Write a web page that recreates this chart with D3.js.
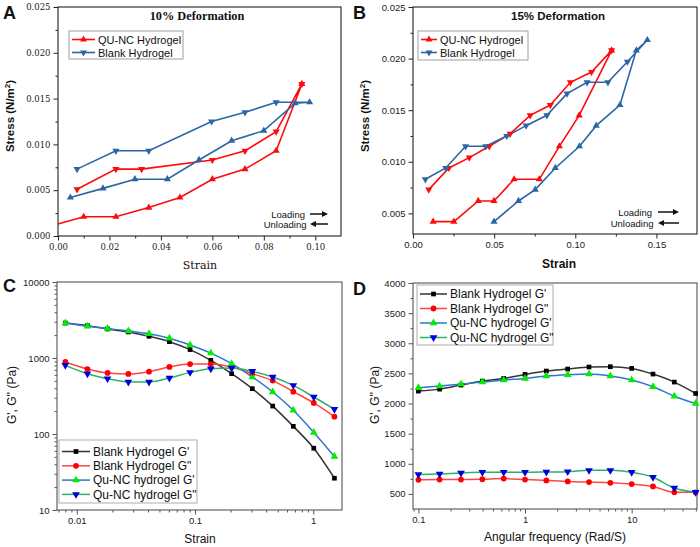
<!DOCTYPE html>
<html><head><meta charset="utf-8">
<script src="https://cdn.jsdelivr.net/npm/d3@7"></script>
<style>body{margin:0;background:#fff}svg{display:block}</style>
</head><body>
<svg id="c" width="700" height="547"></svg>
<script>
// ---------- DATA ----------
// Panel A : 10% deformation, [strain, stress]
const aQuLoading = [[0.0,0.0013],[0.0100,0.0021],[0.0225,0.0021],[0.0353,0.0031],[0.0474,0.0042],[0.0600,0.0062],[0.0727,0.0073],[0.0848,0.0093],[0.0948,0.0166]];
const aQuUnloading = [[0.0948,0.0166],[0.0848,0.0114],[0.0727,0.0093],[0.0600,0.0083],[0.0325,0.0073],[0.0225,0.0073],[0.0074,0.0051]];
const aBlankLoading = [[0.0048,0.0042],[0.0175,0.0052],[0.0299,0.0062],[0.0425,0.0062],[0.0548,0.0083],[0.0675,0.0104],[0.0800,0.0115],[0.0922,0.0145],[0.0978,0.0146]];
const aBlankUnloading = [[0.0978,0.0146],[0.0848,0.0146],[0.0727,0.0135],[0.0597,0.0125],[0.0353,0.0093],[0.0225,0.0093],[0.0074,0.0073]];
// Panel B : 15% deformation
const bQuLoading = [[0.0124,0.0042],[0.0252,0.0042],[0.0402,0.0062],[0.0499,0.0062],[0.0623,0.0083],[0.0778,0.0083],[0.0902,0.0115],[0.1024,0.0145],[0.1224,0.0208]];
const bQuUnloading = [[0.1224,0.0208],[0.1100,0.0187],[0.0970,0.0177],[0.0846,0.0155],[0.0722,0.0145],[0.0598,0.0127],[0.0470,0.0115],[0.0347,0.0104],[0.0221,0.0094],[0.0097,0.0073]];
const bBlankLoading = [[0.0499,0.0042],[0.0650,0.0062],[0.0753,0.0073],[0.0877,0.0094],[0.1026,0.0115],[0.1129,0.0135],[0.1275,0.0155],[0.1376,0.0208],[0.1444,0.0218]];
const bBlankUnloading = [[0.1444,0.0218],[0.1321,0.0197],[0.1201,0.0177],[0.1073,0.0177],[0.0949,0.0166],[0.0825,0.0145],[0.0697,0.0135],[0.0578,0.0125],[0.0448,0.0115],[0.0324,0.0115],[0.0202,0.0094],[0.0076,0.0083]];
// Panel C : strain sweep
const cStrain = [0.0080,0.0123,0.0182,0.0273,0.0408,0.0607,0.0908,0.136,0.204,0.305,0.454,0.678,1.01,1.51];
const cBlankG1 = [2880,2660,2410,2200,1930,1640,1290,931,622,395,233,126,65,26.2];
const cBlankG2 = [886,716,635,616,661,762,833,833,762,622,504,361,256,169];
const cQuG1 = [2880,2610,2450,2260,2090,1820,1480,1160,842,562,357,205,105,50.5];
const cQuG2 = [801,622,535,483,483,545,647,724,738,668,562,436,307,212];
// Panel D : frequency sweep
const dFreq = [0.1,0.158,0.251,0.398,0.631,1,1.585,2.512,3.981,6.31,10,15.85,25.12,39.81];
const dBlankG1 = [2206,2239,2306,2372,2417,2483,2539,2572,2606,2611,2583,2489,2356,2167];
const dBlankG2 = [734,739,739,745,755,739,723,707,696,685,663,625,527,527];
const dQuG1 = [2261,2289,2322,2356,2389,2417,2456,2478,2489,2456,2389,2278,2122,2000];
const dQuG2 = [821,832,848,859,859,859,864,870,891,891,859,777,598,527];
// Tick labels
const aXTicks = [0,0.02,0.04,0.06,0.08,0.10];
const aYTicks = [0,0.005,0.010,0.015,0.020,0.025];
const bXTicks = [0,0.05,0.10,0.15];
const bYTicks = [0.005,0.010,0.015,0.020,0.025];
const cXTicks = [0.01,0.1,1];
const cYTicks = [10,100,1000,10000];
const dXTicks = [0.1,1,10];
const dYTicks = [500,1000,1500,2000,2500,3000,3500,4000];
const abNames = ["QU-NC Hydrogel","Blank Hydrogel"];
const cdNames = ["Blank Hydrogel G'","Blank Hydrogel G\"","Qu-NC hydrogel G'","Qu-NC hydrogel G\""];

// ---------- DRAW ----------
const svg = d3.select("#c");
const SANS = "'Liberation Sans', Arial, sans-serif";
const SERIF = "'DejaVu Serif', serif";
const RED = "#ff0a0a", BLUE = "#2c64a6";

function sym(type, size){
  const t = {up:d3.symbolTriangle, down:d3.symbolTriangle, sq:d3.symbolSquare, circ:d3.symbolCircle}[type];
  return d3.symbol().type(t).size(size)();
}
function marker(g, x, y, type, size, fill){
  g.append("path").attr("d", sym(type,size))
   .attr("transform", `translate(${x},${y})` + (type==="down" ? " rotate(180)" : ""))
   .attr("fill", fill);
}

function axes(p){
  const g = svg.append("g");
  const [x0,x1] = p.x.range(), [y0,y1] = p.y.range();
  g.append("g").attr("transform",`translate(0,${y0})`)
   .call(d3.axisBottom(p.x).tickValues(p.xMinor).tickSize(2.5).tickFormat("").tickSizeOuter(0))
   .call(s=>s.select(".domain").remove()).selectAll("line").attr("stroke",p.frame);
  g.append("g").attr("transform",`translate(${x0},0)`)
   .call(d3.axisLeft(p.y).tickValues(p.yMinor).tickSize(2.5).tickFormat("").tickSizeOuter(0))
   .call(s=>s.select(".domain").remove()).selectAll("line").attr("stroke",p.frame);
  const xa = g.append("g").attr("transform",`translate(0,${y0})`)
   .call(d3.axisBottom(p.x).tickValues(p.xTicks).tickSize(4.5).tickPadding(3).tickFormat(p.xFmt).tickSizeOuter(0));
  xa.select(".domain").remove();
  xa.selectAll("line").attr("stroke",p.frame);
  xa.selectAll("text").attr("font-family",p.font).attr("font-size",p.tickSize).attr("fill","#222");
  const ya = g.append("g").attr("transform",`translate(${x0},0)`)
   .call(d3.axisLeft(p.y).tickValues(p.yTicks).tickSize(4.5).tickPadding(3).tickFormat(p.yFmt).tickSizeOuter(0));
  ya.select(".domain").remove();
  ya.selectAll("line").attr("stroke",p.frame);
  ya.selectAll("text").attr("font-family",p.font).attr("font-size",p.tickSize).attr("fill","#222");
  g.append("rect").attr("x",x0).attr("y",y1).attr("width",x1-x0).attr("height",y0-y1)
   .attr("fill","none").attr("stroke",p.frame).attr("stroke-width",1.1);
}

function panelLabel(t,x,y){
  svg.append("text").attr("x",x).attr("y",y).text(t)
   .attr("font-family",SANS).attr("font-weight","bold").attr("font-size",18).attr("fill","#111");
}
function yLabel(t,x,y,size,weight){
  return svg.append("text").attr("transform",`translate(${x},${y}) rotate(-90)`)
   .attr("text-anchor","middle").attr("font-family",SANS).attr("font-size",size)
   .attr("font-weight",weight).attr("fill","#111");
}

// --- Panel A & B (hysteresis) ---
function hyst(p){
  axes(p);
  const line = d3.line().x(d=>p.x(d[0])).y(d=>p.y(d[1]));
  const g = svg.append("g");
  p.series.forEach(s=>{
    g.append("path").attr("d",line(s.load.concat(s.unload.slice(1))))
     .attr("fill","none").attr("stroke",s.color).attr("stroke-width",1.6);
  });
  p.series.forEach(s=>{
    s.load.filter(d=>d[0]>0).forEach(d=>marker(g,p.x(d[0]),p.y(d[1]),"up",22,s.color));
    s.unload.slice(1).forEach(d=>marker(g,p.x(d[0]),p.y(d[1]),"down",22,s.color));
  });
  const top = p.series[0].load[p.series[0].load.length-1];
  marker(g,p.x(top[0]),p.y(top[1]),"down",22,p.series[0].color);
  const L = p.legend;
  svg.append("rect").attr("x",L.x).attr("y",L.y).attr("width",L.w).attr("height",L.h)
   .attr("fill","#fff").attr("stroke","#888").attr("stroke-width",0.8);
  p.series.forEach((s,i)=>{
    const yy = L.y + 8.5 + i*13;
    svg.append("line").attr("x1",L.x+3).attr("x2",L.x+L.lw).attr("y1",yy).attr("y2",yy)
      .attr("stroke",s.color).attr("stroke-width",1.6);
    marker(svg,L.x+3+(L.lw-3)/2,yy,i===0?"up":"down",20,s.color);
    svg.append("text").attr("x",L.x+L.lw+3).attr("y",yy+4).text(abNames[i])
      .attr("font-family",SANS).attr("font-size",11).attr("fill","#111");
  });
  const A = p.arrows;
  const tt = (t,x,y)=>svg.append("text").attr("x",x).attr("y",y).attr("text-anchor","end").text(t)
    .attr("font-family",SANS).attr("font-size",9.5).attr("fill","#111");
  tt("Loading",A.tx,A.y1+3.5); tt("Unloading",A.tx+1.5,A.y2+3.5);
  svg.append("line").attr("x1",A.ax).attr("x2",A.ax+A.len-4).attr("y1",A.y1).attr("y2",A.y1).attr("stroke","#111").attr("stroke-width",1.5);
  svg.append("path").attr("d",`M${A.ax+A.len},${A.y1} l-6,-3 l0,6 z`).attr("fill","#111");
  svg.append("line").attr("x1",A.ax+4).attr("x2",A.ax+A.len).attr("y1",A.y2).attr("y2",A.y2).attr("stroke","#111").attr("stroke-width",1.5);
  svg.append("path").attr("d",`M${A.ax},${A.y2} l6,-3 l0,6 z`).attr("fill","#111");
}

const aX = d3.scaleLinear().domain([0,0.11]).range([58,341]);
const aY = d3.scaleLinear().domain([0,0.025]).range([236,7]);
hyst({x:aX,y:aY,frame:"#222",font:SERIF,tickSize:8.5,
  xTicks:aXTicks,xMinor:d3.range(0.01,0.11,0.02),xFmt:d3.format(".2f"),
  yTicks:aYTicks,yMinor:d3.range(0.0025,0.025,0.005),yFmt:d3.format(".3f"),
  series:[{load:aQuLoading,unload:aQuUnloading,color:RED},{load:aBlankLoading,unload:aBlankUnloading,color:BLUE}],
  legend:{x:69,y:31,w:114,h:28,lw:26},
  arrows:{tx:305,ax:310,len:18,y1:214,y2:224}});
svg.append("text").attr("x",197).attr("y",20).attr("text-anchor","middle").text("10% Deformation")
  .attr("font-family","'Liberation Serif', serif").attr("font-weight","bold").attr("font-size",12.3).attr("fill","#111");
svg.append("text").attr("x",200).attr("y",269).attr("text-anchor","middle").text("Strain")
  .attr("font-family",SERIF).attr("font-size",11).attr("fill","#111");
{ const t = yLabel("",14,116,11.5,"bold");
  t.append("tspan").text("Stress (N/m");
  t.append("tspan").text("2").attr("dy",-4).attr("font-size",8);
  t.append("tspan").text(")").attr("dy",4); }
panelLabel("A",3,19);

const bX = d3.scaleLinear().domain([0,0.175]).range([413,697]);
const bY = d3.scaleLinear().domain([0.003,0.025]).range([234,7]);
hyst({x:bX,y:bY,frame:"#222",font:SANS,tickSize:9.5,
  xTicks:bXTicks,xMinor:[0.025,0.075,0.125],xFmt:d3.format(".2f"),
  yTicks:bYTicks,yMinor:[0.0075,0.0125,0.0175,0.0225],yFmt:d3.format(".3f"),
  series:[{load:bQuLoading,unload:bQuUnloading,color:RED},{load:bBlankLoading,unload:bBlankUnloading,color:BLUE}],
  legend:{x:418,y:31,w:110,h:29,lw:19},
  arrows:{tx:652,ax:658,len:21,y1:212,y2:223}});
svg.append("text").attr("x",558).attr("y",20).attr("text-anchor","middle").text("15% Deformation")
  .attr("font-family",SANS).attr("font-weight","bold").attr("font-size",11.5).attr("fill","#111");
svg.append("text").attr("x",559).attr("y",268).attr("text-anchor","middle").text("Strain")
  .attr("font-family",SANS).attr("font-weight","bold").attr("font-size",12).attr("fill","#111");
{ const t = yLabel("",369,116,11.5,"bold");
  t.append("tspan").text("Stress (N/m");
  t.append("tspan").text("2").attr("dy",-4).attr("font-size",8);
  t.append("tspan").text(")").attr("dy",4); }
panelLabel("B",353,19);

// --- Panel C & D (rheology) ---
const cdStyle = [
  {line:"#333333", fill:"#000000", type:"sq", size:22},
  {line:"#ff4545", fill:"#ff0000", type:"circ", size:26},
  {line:"#2a78d0", fill:"#00ee00", type:"up", size:26},
  {line:"#2fae6c", fill:"#0000dd", type:"down", size:26}
];
function rheo(p){
  axes(p);
  const g = svg.append("g");
  const line = d3.line().curve(d3.curveMonotoneX);
  p.series.forEach((vals,i)=>{
    const pts = p.xs.map((x,j)=>[p.x(x),p.y(vals[j])]);
    g.append("path").attr("d",line(pts)).attr("fill","none").attr("stroke",cdStyle[i].line).attr("stroke-width",1.5);
  });
  p.series.forEach((vals,i)=>{
    p.xs.forEach((x,j)=>marker(g,p.x(x),p.y(vals[j]),cdStyle[i].type,cdStyle[i].size,cdStyle[i].fill));
  });
  const L = p.legend;
  svg.append("rect").attr("x",L.x).attr("y",L.y).attr("width",L.w).attr("height",L.h)
   .attr("fill","#fff").attr("stroke","#999").attr("stroke-width",0.8);
  cdNames.forEach((n,i)=>{
    const yy = L.y + L.r0 + i*L.dy;
    svg.append("line").attr("x1",L.x+3).attr("x2",L.x+L.lw).attr("y1",yy).attr("y2",yy)
      .attr("stroke",cdStyle[i].line).attr("stroke-width",1.5);
    marker(svg,L.x+3+(L.lw-3)/2,yy,cdStyle[i].type,cdStyle[i].size,cdStyle[i].fill);
    svg.append("text").attr("x",L.x+L.lw+3).attr("y",yy+4.3).text(n)
      .attr("font-family",SANS).attr("font-size",12).attr("fill","#111");
  });
}
function logMinor(lo,hi){
  const out=[];
  for(let e=Math.floor(Math.log10(lo)); e<=Math.ceil(Math.log10(hi)); e++)
    for(let k=2;k<=9;k++){ const v=k*Math.pow(10,e); if(v>lo&&v<hi) out.push(v); }
  return out;
}
const cX = d3.scaleLog().domain([0.0068,1.75]).range([57,342]);
const cY = d3.scaleLog().domain([10,10000]).range([510,282]);
rheo({x:cX,y:cY,frame:"#555",font:SANS,tickSize:9.5,
  xTicks:cXTicks,xMinor:logMinor(0.0068,1.75),xFmt:d=>String(d),
  yTicks:cYTicks,yMinor:logMinor(10,10000),yFmt:d=>String(d),
  xs:cStrain,series:[cBlankG1,cBlankG2,cQuG1,cQuG2],
  legend:{x:59,y:440,w:138,h:63,lw:31,r0:11.5,dy:14.3}});
svg.append("text").attr("x",200).attr("y",543).attr("text-anchor","middle").text("Strain")
  .attr("font-family",SANS).attr("font-size",12).attr("fill","#111");
yLabel("",16,395,12,"normal").text("G', G'' (Pa)");
panelLabel("C",3,292);

const dX = d3.scaleLog().domain([0.089,41]).range([413,697]);
const dY = d3.scaleLinear().domain([250,4000]).range([509,283]);
rheo({x:dX,y:dY,frame:"#555",font:SANS,tickSize:9.5,
  xTicks:dXTicks,xMinor:logMinor(0.089,41),xFmt:d=>String(d),
  yTicks:dYTicks,yMinor:d3.range(750,4000,500),yFmt:d=>String(d),
  xs:dFreq,series:[dBlankG1,dBlankG2,dQuG1,dQuG2],
  legend:{x:417,y:285,w:136,h:60,lw:30,r0:9,dy:14.5}});
svg.append("text").attr("x",555).attr("y",541).attr("text-anchor","middle").text("Angular frequency (Rad/S)")
  .attr("font-family",SANS).attr("font-size",12).attr("fill","#111");
yLabel("",379,395,12,"normal").text("G', G'' (Pa)");
panelLabel("D",353,295);
</script>
</body></html>
